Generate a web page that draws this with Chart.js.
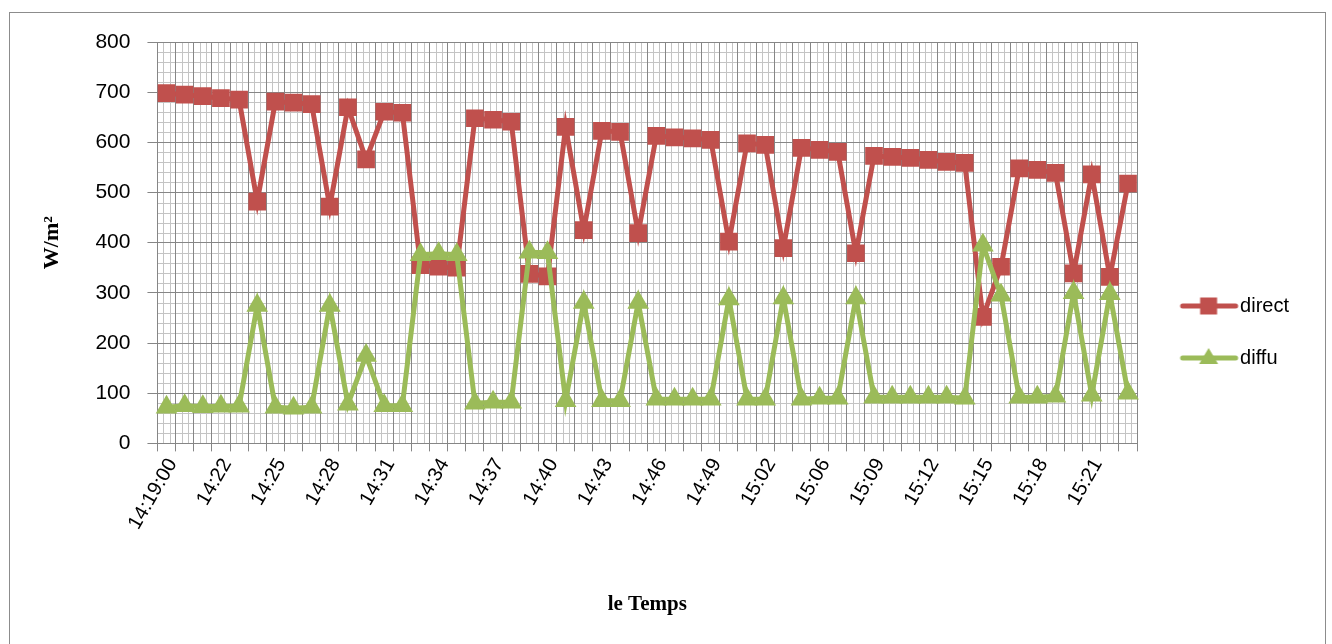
<!DOCTYPE html>
<html>
<head>
<meta charset="utf-8">
<script src="https://cdn.jsdelivr.net/npm/chart.js@4"></script>
<style>
  html, body { margin: 0; padding: 0; background: #fff; overflow: hidden; }
  #frame { position: absolute; left: 9px; top: 12px; width: 1315px; height: 700px; border: 1px solid #8c8c8c; }
  #wrap { position: absolute; left: 0; top: 0; width: 1332px; height: 644px; }
</style>
</head>
<body>
<div id="frame"></div>
<div id="wrap"><canvas id="grafico"></canvas></div>
<script>
const tickLabels = ["14:19:00", "14:22", "14:25", "14:28", "14:31", "14:34", "14:37", "14:40", "14:43",
    "14:46", "14:49", "15:02", "15:06", "15:09", "15:12", "15:15", "15:18", "15:21"];
const labelStep = 3;

const direct = [698, 695, 692, 688, 685, 482, 681, 679, 676, 472, 670, 566, 661, 659, 355, 352, 350, 648,
    645, 641, 338, 333, 631, 425, 623, 621, 419, 613, 610, 608, 605, 402, 598, 595, 389, 589, 585, 581,
    379, 573, 571, 569, 565, 561, 559, 252, 352, 548, 545, 539, 339, 536, 332, 518];
const diffu = [72, 75, 73, 74, 74, 275, 72, 70, 72, 275, 78, 175, 75, 75, 376, 378, 376, 80,
    82, 82, 381, 380, 85, 281, 85, 85, 281, 88, 88, 88, 88, 288, 88, 88, 290, 88, 90, 90,
    290, 92, 92, 92, 92, 92, 90, 395, 295, 92, 92, 94, 300, 96, 298, 100];

const categories = direct.map((v, i) => (i % labelStep === 0 && tickLabels[i / labelStep]) ? tickLabels[i / labelStep] : "");

const rouge = "#C0504D";
const vert = "#9BBB59";

// petites images pour la légende (ligne + marqueur)
function legendImg(color, style) {
    const c = document.createElement("canvas");
    c.width = 80; c.height = 24;
    const g = c.getContext("2d");
    g.strokeStyle = color; g.fillStyle = color; g.lineWidth = 5; g.lineCap = "round";
    g.beginPath(); g.moveTo(23, 12); g.lineTo(76, 12); g.stroke();
    g.beginPath();
    if (style === "rect") {
        g.rect(49 - 8.5, 12 - 8.5, 17, 17);
    } else {
        g.moveTo(49, 12 - 10); g.lineTo(49 + 9.5, 12 + 6); g.lineTo(49 - 9.5, 12 + 6); g.closePath();
    }
    g.fill();
    return c;
}
const legendImgs = [legendImg(rouge, "rect"), legendImg(vert, "triangle")];

// grille secondaire (lignes claires)
const minorGrid = {
    id: "minorGrid",
    beforeDraw(chart) {
        const {ctx, chartArea: a, scales} = chart;
        ctx.save();
        ctx.strokeStyle = "#c4c4c4";
        ctx.lineWidth = 1;
        const n = categories.length * 3;
        for (let k = 1; k < n; k++) {
            if (k % 3 === 0) continue;
            const x = Math.round(a.left + (a.right - a.left) * k / n) + 0.5;
            ctx.beginPath(); ctx.moveTo(x, a.top); ctx.lineTo(x, a.bottom); ctx.stroke();
        }
        for (let v = 20; v < 800; v += 20) {
            if (v % 100 === 0) continue;
            const y = Math.round(scales.y.getPixelForValue(v)) + 0.5;
            ctx.beginPath(); ctx.moveTo(a.left, y); ctx.lineTo(a.right, y); ctx.stroke();
        }
        ctx.restore();
    }
};

const ctx = document.getElementById("grafico").getContext("2d");
new Chart(ctx, {
    type: "line",
    data: {
        labels: categories,
        datasets: [{
            label: "direct",
            data: direct,
            borderColor: rouge,
            backgroundColor: rouge,
            borderWidth: 5,
            pointStyle: "rect",
            pointRadius: 12.5,
            pointBorderWidth: 0,
            tension: 0,
            order: 1
        }, {
            label: "diffu",
            data: diffu,
            borderColor: vert,
            backgroundColor: vert,
            borderWidth: 5,
            pointStyle: "triangle",
            pointRadius: 12.5,
            pointBorderWidth: 0,
            tension: 0,
            order: 0
        }]
    },
    options: {
        responsive: true,
        maintainAspectRatio: false,
        animation: false,
        layout: { padding: { left: 35, right: 33, top: 42, bottom: 22 } },
        plugins: {
            tooltip: { enabled: false },
            legend: {
                position: "right",
                labels: {
                    usePointStyle: true,
                    pointStyleWidth: 61,
                    padding: 32,
                    color: "#000",
                    font: { family: "'Liberation Sans', Arial", size: 20 },
                    sort: (a, b) => a.datasetIndex - b.datasetIndex,
                    generateLabels(chart) {
                        const items = Chart.defaults.plugins.legend.labels.generateLabels(chart);
                        items.forEach(it => { it.pointStyle = legendImgs[it.datasetIndex]; });
                        return items;
                    }
                }
            }
        },
        scales: {
            x: {
                offset: true,
                grid: { offset: true, color: "#868686", lineWidth: 1, tickLength: 8 },
                border: { color: "#868686" },
                ticks: {
                    autoSkip: false,
                    maxRotation: 60,
                    minRotation: 60,
                    padding: 3,
                    labelOffset: 6,
                    color: "#000",
                    font: { family: "'Liberation Sans', Arial", size: 20 }
                },
                title: {
                    display: true,
                    text: "le Temps",
                    color: "#000",
                    padding: { top: 55, bottom: 5 },
                    font: { family: "'Liberation Serif', 'Times New Roman', serif", size: 21, weight: "bold" }
                }
            },
            y: {
                min: 0,
                max: 800,
                grid: { color: "#868686", lineWidth: 1, tickLength: 10 },
                border: { color: "#868686" },
                ticks: {
                    stepSize: 100,
                    padding: 17,
                    color: "#000",
                    font: { family: "'Liberation Sans', Arial", size: 21 }
                },
                title: {
                    display: true,
                    text: "W/m²",
                    color: "#000",
                    padding: { top: 4, bottom: 13 },
                    font: { family: "'Liberation Serif', 'Times New Roman', serif", size: 22, weight: "bold" }
                }
            }
        }
    },
    plugins: [minorGrid]
});
</script>
</body>
</html>
